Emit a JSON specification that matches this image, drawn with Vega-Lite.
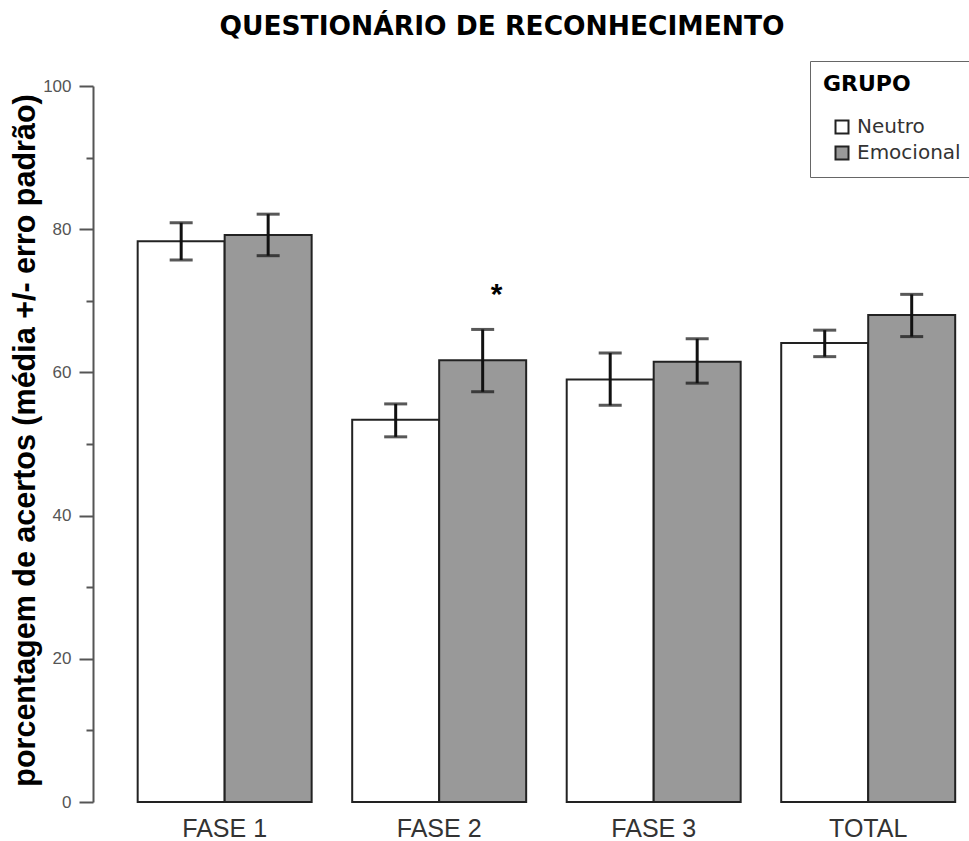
{
  "$schema": "https://vega.github.io/schema/vega-lite/v6.json",
  "autosize": "none",
  "width": 872,
  "height": 716,
  "padding": {"left": 93, "top": 86, "right": 4, "bottom": 39},
  "background": "white",
  "title": {
    "text": "QUESTIONÁRIO DE RECONHECIMENTO",
    "font": "DejaVu Sans",
    "fontSize": 26.5,
    "fontWeight": "bold",
    "color": "#000000",
    "anchor": "middle",
    "frame": "group",
    "dx": -27,
    "offset": -1,
    "baseline": "alphabetic"
  },
  "datasets": {
    "acertos": [
      {"fase": "FASE 1", "grupo": "Neutro", "media": 78.3, "lo": 75.7, "hi": 80.9},
      {"fase": "FASE 1", "grupo": "Emocional", "media": 79.2, "lo": 76.3, "hi": 82.1},
      {"fase": "FASE 2", "grupo": "Neutro", "media": 53.4, "lo": 51.0, "hi": 55.6},
      {"fase": "FASE 2", "grupo": "Emocional", "media": 61.7, "lo": 57.3, "hi": 66.0},
      {"fase": "FASE 3", "grupo": "Neutro", "media": 59.0, "lo": 55.4, "hi": 62.7},
      {"fase": "FASE 3", "grupo": "Emocional", "media": 61.5, "lo": 58.5, "hi": 64.7},
      {"fase": "TOTAL", "grupo": "Neutro", "media": 64.1, "lo": 62.2, "hi": 65.9},
      {"fase": "TOTAL", "grupo": "Emocional", "media": 68.0, "lo": 65.0, "hi": 70.9}
    ],
    "significancia": [
      {"fase": "FASE 2", "grupo": "Emocional", "y": 69.6, "marca": "*"}
    ]
  },
  "encoding": {
    "x": {
      "field": "fase",
      "type": "nominal",
      "sort": ["FASE 1", "FASE 2", "FASE 3", "TOTAL"],
      "scale": {"paddingInner": 0.189, "paddingOuter": 0.127, "align": 0.82},
      "axis": {
        "title": null,
        "domain": false,
        "ticks": false,
        "labelAngle": 0,
        "labelFont": "Liberation Sans",
        "labelFontSize": 25,
        "labelColor": "#333333",
        "labelPadding": 14
      }
    },
    "xOffset": {
      "field": "grupo",
      "type": "nominal",
      "sort": ["Neutro", "Emocional"],
      "scale": {"paddingInner": 0, "paddingOuter": 0}
    }
  },
  "layer": [
    {
      "data": {"name": "acertos"},
      "mark": {"type": "bar", "stroke": "#222222", "strokeWidth": 2},
      "encoding": {
        "y": {
          "field": "media",
          "type": "quantitative",
          "scale": {"domain": [0, 100], "nice": false},
          "axis": {
            "title": "porcentagem de acertos (média +/- erro padrão)",
            "titleFont": "Liberation Sans",
            "titleFontSize": 30.5,
            "titleFontWeight": "bold",
            "titleColor": "#000000",
            "titleAngle": -90,
            "titleAlign": "center",
            "titleBaseline": "middle",
            "titleX": -68,
            "titleY": 354,
            "values": [0, 10, 20, 30, 40, 50, 60, 70, 80, 90, 100],
            "labelExpr": "datum.value % 20 === 0 ? datum.label : ''",
            "labelFont": "Liberation Sans",
            "labelFontSize": 17,
            "labelColor": "#555555",
            "labelPadding": 8,
            "tickSize": {"condition": {"test": "datum.value % 20 === 0", "value": 14}, "value": 7},
            "tickColor": "#555555",
            "tickWidth": 2,
            "domainColor": "#555555",
            "domainWidth": 2,
            "grid": false
          }
        },
        "fill": {
          "field": "grupo",
          "type": "nominal",
          "sort": ["Neutro", "Emocional"],
          "scale": {"domain": ["Neutro", "Emocional"], "range": ["#ffffff", "#999999"]},
          "legend": {
            "title": "GRUPO",
            "orient": "none",
            "legendX": 717,
            "legendY": -25,
            "fillColor": "#ffffff",
            "strokeColor": "#666666",
            "padding": 13,
            "titleFont": "DejaVu Sans",
            "titleFontSize": 22,
            "titleFontWeight": "bold",
            "titleColor": "#000000",
            "titlePadding": 21,
            "labelFont": "DejaVu Sans",
            "labelFontSize": 20,
            "labelColor": "#333333",
            "labelOffset": 5,
            "symbolType": "square",
            "symbolSize": 169,
            "symbolStrokeColor": "#222222",
            "symbolStrokeWidth": 2,
            "symbolOffset": 9,
            "rowPadding": 4
          }
        }
      }
    },
    {
      "data": {"name": "acertos"},
      "mark": {"type": "rule", "color": "#111111", "strokeWidth": 3},
      "encoding": {
        "y": {"field": "lo", "type": "quantitative"},
        "y2": {"field": "hi"}
      }
    },
    {
      "data": {"name": "acertos"},
      "mark": {"type": "tick", "color": "#111111", "size": 23, "thickness": 3, "orient": "horizontal"},
      "encoding": {"y": {"field": "lo", "type": "quantitative"}}
    },
    {
      "data": {"name": "acertos"},
      "mark": {"type": "tick", "color": "#111111", "size": 23, "thickness": 3, "orient": "horizontal"},
      "encoding": {"y": {"field": "hi", "type": "quantitative"}}
    },
    {
      "data": {"name": "significancia"},
      "mark": {"type": "text", "font": "Liberation Sans", "fontSize": 30, "fontWeight": "bold", "color": "#000000", "baseline": "alphabetic", "dx": 14},
      "encoding": {
        "y": {"field": "y", "type": "quantitative"},
        "text": {"field": "marca"}
      }
    }
  ],
  "config": {
    "view": {"stroke": null}
  }
}
